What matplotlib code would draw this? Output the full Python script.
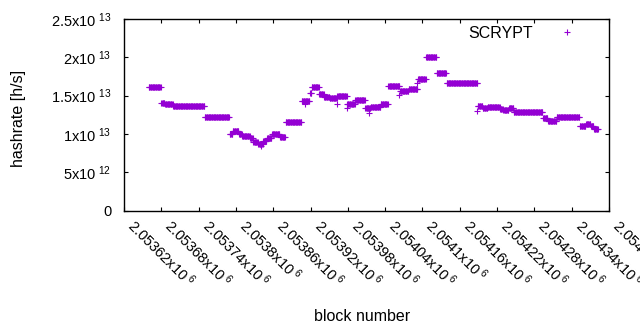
import numpy as np
import matplotlib
matplotlib.use("Agg")
import matplotlib.pyplot as plt
from matplotlib.ticker import FuncFormatter, MultipleLocator
from matplotlib.lines import Line2D

plt.rcParams['font.family'] = ['Liberation Sans', 'DejaVu Sans']
plt.rcParams['mathtext.default'] = 'regular'

# difficulty periods: first block of each run, hashrate estimate for the run
seg_start = [2053660, 2053680, 2053686, 2053699, 2053750, 2053790, 2053795,
             2053805, 2053810, 2053823, 2053828, 2053836, 2053844, 2053850,
             2053858, 2053871, 2053880, 2053906, 2053919, 2053922, 2053934,
             2053942, 2053951, 2053963, 2053979, 2053992, 2054008, 2054017,
             2054033, 2054045, 2054064, 2054078, 2054093, 2054106, 2054123,
             2054139, 2054189, 2054197, 2054205, 2054225, 2054230, 2054239,
             2054247, 2054294, 2054302, 2054316, 2054353, 2054363, 2054371,
             2054376]
last_block = 2054382
seg_hashrate = [1.61, 1.40, 1.39, 1.365, 1.218, 1.00, 1.04, 1.00, 0.97, 0.945,
                0.90, 0.87, 0.91, 0.945, 1.00, 0.96, 1.153, 1.43, 1.53, 1.61,
                1.52, 1.48, 1.47, 1.49, 1.39, 1.44, 1.34, 1.35, 1.39, 1.62,
                1.56, 1.58, 1.72, 2.01, 1.79, 1.67, 1.36, 1.34, 1.35, 1.33,
                1.31, 1.34, 1.28, 1.21, 1.17, 1.22, 1.105, 1.13, 1.10, 1.06]

# single outlying blocks
lone_block = [2053841, 2053911, 2053962, 2053978, 2054014, 2054062, 2054091, 2054188]
lone_hashrate = [0.836, 1.39, 1.39, 1.34, 1.27, 1.51, 1.66, 1.30]

SCALE = 1e13
color = '#9400d3'

# expand runs to one point per block
ends = seg_start[1:] + [last_block + 1]
blocks, rates = [], []
for s, e, v in zip(seg_start, ends, seg_hashrate):
    b = np.arange(s, e)
    blocks.append(b)
    rates.append(np.full(len(b), v * SCALE))
blocks.append(np.array(lone_block))
rates.append(np.array(lone_hashrate) * SCALE)
blocks = np.concatenate(blocks)
rates = np.concatenate(rates)


def sci_label(val, _pos=None):
    if val == 0:
        return '0'
    exp = int(np.floor(np.log10(abs(val)) + 1e-9))
    mant = val / 10 ** exp
    return '%gx10$^{\\ %d}$' % (round(mant, 6), exp)


fig = plt.figure(figsize=(6.4, 3.3), dpi=100)
ax = fig.add_axes([124 / 640, 1 - 210.5 / 330, 485 / 640, 191.5 / 330])

ax.plot(blocks, rates, linestyle='none', marker='+', markersize=5,
        markeredgewidth=0.8, color=color)

ax.set_xlim(2053620, 2054400)
ax.set_ylim(0, 2.5e13)
ax.xaxis.set_major_locator(MultipleLocator(60))
ax.yaxis.set_major_locator(MultipleLocator(5e12))
ax.xaxis.set_major_formatter(FuncFormatter(sci_label))
ax.yaxis.set_major_formatter(FuncFormatter(sci_label))

ax.tick_params(direction='in', length=3, width=0.8, top=True, right=True,
               labelsize=10.5)
ax.tick_params(axis='y', pad=9)
ax.tick_params(axis='x', pad=13)
for lab in ax.get_xticklabels():
    lab.set_rotation(-45)
    lab.set_ha('left')
    lab.set_va('bottom')
    lab.set_rotation_mode('anchor')

for sp in ax.spines.values():
    sp.set_linewidth(1)

ax.set_xlabel('block number', fontsize=11.5)
ax.set_ylabel('hashrate [h/s]', fontsize=11.5)
ax.xaxis.set_label_coords(0.49, -0.515)
ax.yaxis.set_label_coords(-0.203, 0.48)

handle = Line2D([], [], linestyle='none', marker='+', markersize=5,
                markeredgewidth=0.8, color=color)
ax.legend([handle], ['SCRYPT'], loc='upper right', frameon=False,
          markerfirst=False, fontsize=11.5, handlelength=2.25,
          handletextpad=1.0, borderpad=0, borderaxespad=0,
          bbox_to_anchor=(585 / 640, 1 - 26 / 330),
          bbox_transform=fig.transFigure)

fig.savefig('out.png', dpi=100)
